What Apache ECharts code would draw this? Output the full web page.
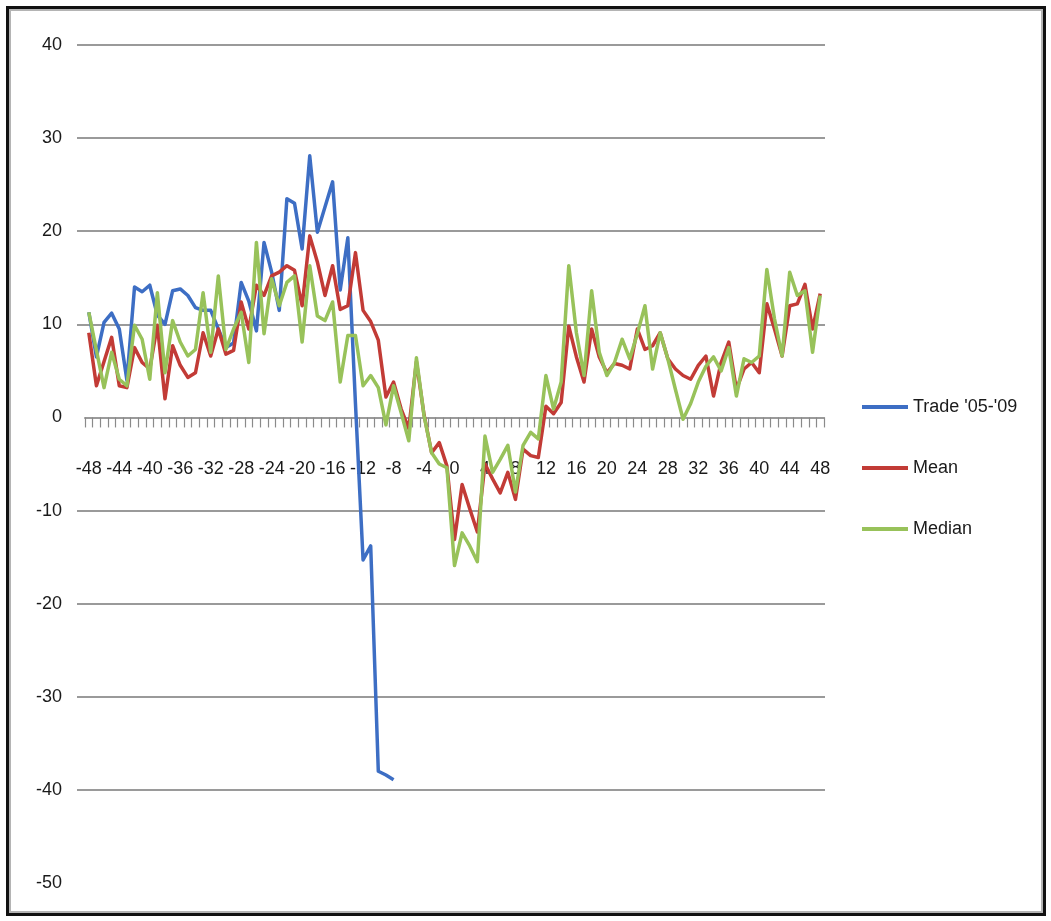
<!DOCTYPE html>
<html>
<head>
<meta charset="utf-8">
<title>Trade '05-'09 vs Mean and Median</title>
<script src="https://cdn.jsdelivr.net/npm/echarts@6/dist/echarts.min.js"></script>
<style>
  html, body { margin: 0; padding: 0; background: #fff; }
  #chart { position: absolute; left: 0; top: 0; width: 1051px; height: 921px; }
  #frame {
    position: absolute; left: 6px; top: 6px; right: 5px; bottom: 5px;
    border: 3px solid #111; box-shadow: inset 0 0 0 2px #b4b4b4;
    pointer-events: none;
  }
</style>
</head>
<body>
<div id="chart"></div>
<div id="frame"></div>
<script>
// Months relative to the event month
const months = [
  -48, -47, -46, -45, -44, -43, -42, -41, -40, -39, -38, -37, -36, -35, -34, -33,
  -32, -31, -30, -29, -28, -27, -26, -25, -24, -23, -22, -21, -20, -19, -18, -17,
  -16, -15, -14, -13, -12, -11, -10, -9, -8, -7, -6, -5, -4, -3, -2, -1,
  0, 1, 2, 3, 4, 5, 6, 7, 8, 9, 10, 11, 12, 13, 14, 15,
  16, 17, 18, 19, 20, 21, 22, 23, 24, 25, 26, 27, 28, 29, 30, 31,
  32, 33, 34, 35, 36, 37, 38, 39, 40, 41, 42, 43, 44, 45, 46, 47, 48
];

// Trade '05-'09 (observed only up to month -8)
const trade = [
  11.3, 6.5, 10.2, 11.2, 9.5, 4.0, 14.0, 13.5, 14.2, 11.0, 10.0, 13.6, 13.8, 13.1, 11.8, 11.5,
  11.5, 9.5, 7.5, 8.0, 14.5, 12.5, 9.3, 18.8, 15.6, 11.5, 23.5, 23.0, 18.1, 28.1, 19.9, 22.6,
  25.3, 13.7, 19.3, 1.5, -15.3, -13.8, -38.0, -38.4, -38.9
];

// Mean of past episodes
const mean = [
  9.1, 3.4, 6.0, 8.6, 3.4, 3.2, 7.5, 5.9, 5.2, 9.9, 2.0, 7.7, 5.6, 4.3, 4.8, 9.1,
  6.6, 9.5, 6.8, 7.2, 12.4, 9.5, 14.2, 13.1, 15.2, 15.6, 16.3, 15.8, 12.0, 19.5, 16.7, 13.1,
  16.3, 11.6, 12.0, 17.7, 11.5, 10.3, 8.3, 2.2, 3.8, 0.9, -1.2, 6.0, 0.3, -3.8, -2.7, -5.2,
  -13.1, -7.2, -9.8, -12.3, -5.0, -6.6, -8.1, -5.9, -8.8, -3.4, -4.1, -4.3, 1.2, 0.4, 1.6, 9.8,
  6.5, 3.8, 9.5, 6.5, 4.8, 5.8, 5.6, 5.2, 9.5, 7.3, 7.7, 9.1, 6.3, 5.2, 4.5, 4.1,
  5.6, 6.6, 2.3, 5.9, 8.1, 3.0, 5.2, 5.9, 4.8, 12.2, 9.5, 6.6, 12.0, 12.2, 14.3, 9.5, 13.3
];

// Median of past episodes
const median = [
  11.3, 7.2, 3.2, 7.0, 4.1, 3.4, 9.9, 8.4, 4.1, 13.4, 4.8, 10.4, 8.1, 6.6, 7.3, 13.4,
  7.0, 15.2, 7.3, 9.5, 11.3, 5.9, 18.8, 9.0, 14.9, 12.0, 14.5, 15.2, 8.1, 16.3, 10.9, 10.4,
  12.4, 3.8, 8.8, 8.8, 3.4, 4.5, 3.2, -0.8, 3.4, 0.5, -2.5, 6.4, 0.2, -3.8, -5.0, -5.4,
  -15.9, -12.4, -13.8, -15.5, -2.0, -5.9, -4.5, -3.0, -8.0, -3.0, -1.6, -2.3, 4.5, 0.9, 3.8, 16.3,
  9.1, 4.5, 13.6, 7.0, 4.5, 5.9, 8.4, 6.3, 9.0, 12.0, 5.2, 9.1, 6.3, 3.0, -0.2, 1.5,
  3.8, 5.5, 6.5, 5.0, 7.5, 2.3, 6.3, 5.9, 6.6, 15.9, 10.6, 6.6, 15.6, 13.1, 13.6, 7.0, 13.1
];

const seriesNames = ["Trade '05-'09", 'Mean', 'Median'];
const yMin = -50, yMax = 40, yStep = 10;

const FONT = '"Liberation Sans", Arial, sans-serif';
const GRID_COLOR = '#9a9a9a';
// one colour per horizontal gridline (bottom to top); the zero level is drawn by the
// category axis and the floor of the scale carries no line
const gridColors = [];
for (let v = yMin; v <= yMax; v += yStep) {
  gridColors.push(v === 0 || v === yMin ? 'rgba(0,0,0,0)' : GRID_COLOR);
}

// plot geometry shared by the grids
const PLOT_TOP = 45, PLOT_BOTTOM = 38, PLOT_LEFT = 85, PLOT_RIGHT = 227;
// the category axis sits on the zero level of the value scale
const chartH = 921;
const zeroY = PLOT_TOP + (yMax / (yMax - yMin)) * (chartH - PLOT_TOP - PLOT_BOTTOM);

const chart = echarts.init(document.getElementById('chart'), null, { renderer: 'canvas' });

chart.setOption({
  backgroundColor: '#fff',
  animation: false,
  grid: [
    // value scale with labels and gridlines
    { left: 77, right: 226, top: PLOT_TOP, bottom: PLOT_BOTTOM },
    // plot area carrying the lines
    { left: PLOT_LEFT, right: PLOT_RIGHT, top: PLOT_TOP, bottom: PLOT_BOTTOM },
    // category axis band ending at the zero level
    { left: PLOT_LEFT, right: PLOT_RIGHT, top: PLOT_TOP, bottom: chartH - zeroY }
  ],
  xAxis: [
    { gridIndex: 0, type: 'value', show: false, min: 0, max: 1 },
    { gridIndex: 1, type: 'category', data: months, boundaryGap: true, show: false },
    {
      gridIndex: 2,
      type: 'category',
      data: months,
      boundaryGap: true,
      position: 'bottom',
      axisLine: { show: true, onZero: false, lineStyle: { color: GRID_COLOR, width: 2 } },
      axisTick: { show: true, interval: 0, length: 10, lineStyle: { color: '#8a8a8a', width: 1.2 } },
      axisLabel: {
        interval: 3, margin: 43, color: '#1a1a1a',
        fontFamily: FONT, fontSize: 18
      },
      splitLine: { show: false }
    }
  ],
  yAxis: [
    {
      gridIndex: 0, type: 'value', min: yMin, max: yMax, interval: yStep,
      axisLine: { show: false }, axisTick: { show: false },
      axisLabel: { margin: 15, color: '#1a1a1a', fontFamily: FONT, fontSize: 18 },
      splitLine: { show: true, lineStyle: { color: gridColors, width: 2 } }
    },
    {
      gridIndex: 1, type: 'value', min: yMin, max: yMax, interval: yStep,
      show: false, splitLine: { show: false }
    },
    {
      gridIndex: 2, type: 'value', min: 0, max: yMax,
      show: false, splitLine: { show: false }
    }
  ],
  legend: {
    orient: 'vertical',
    left: 857, top: 392,
    itemWidth: 46, itemHeight: 4, itemGap: 41,
    icon: 'rect',
    textStyle: { fontFamily: FONT, fontSize: 18, color: '#1a1a1a', lineHeight: 20 },
    data: seriesNames
  },
  series: [
    {
      name: seriesNames[0], type: 'line', xAxisIndex: 1, yAxisIndex: 1,
      data: trade, showSymbol: false, symbol: 'none',
      lineStyle: { color: '#3d6ec4', width: 3.5, join: 'round' },
      itemStyle: { color: '#3d6ec4' }
    },
    {
      name: seriesNames[1], type: 'line', xAxisIndex: 1, yAxisIndex: 1,
      data: mean, showSymbol: false, symbol: 'none',
      lineStyle: { color: '#c23b36', width: 3.5, join: 'round' },
      itemStyle: { color: '#c23b36' }
    },
    {
      name: seriesNames[2], type: 'line', xAxisIndex: 1, yAxisIndex: 1,
      data: median, showSymbol: false, symbol: 'none',
      lineStyle: { color: '#98c25a', width: 3.5, join: 'round' },
      itemStyle: { color: '#98c25a' }
    }
  ]
});
</script>
</body>
</html>
